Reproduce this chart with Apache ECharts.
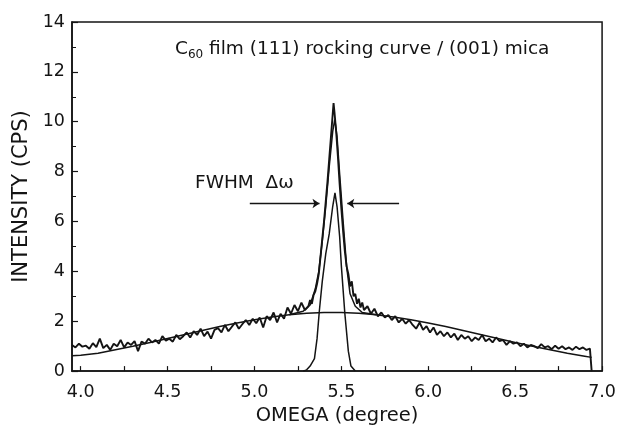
<!DOCTYPE html>
<html>
<head>
<meta charset="utf-8">
<script src="https://cdn.jsdelivr.net/npm/echarts@6/dist/echarts.min.js"></script>
<style>
html,body{margin:0;padding:0;background:#fff;}
#chart{width:619px;height:431px;}
</style>
</head>
<body>
<div id="chart"></div>
<script>
// ---- data ----
var xTickLabels = [4.0, 4.5, 5.0, 5.5, 6.0, 6.5, 7.0];
var xTicks = [4.0, 4.25, 4.5, 4.75, 5.0, 5.25, 5.5, 5.75, 6.0, 6.25, 6.5, 6.75, 7.0];
var yTicks = [0, 2, 4, 6, 8, 10, 12, 14];

var measured = [
[3.95,1.05],[3.97,0.95],[3.99,1.10],[4.01,0.98],[4.03,1.02],[4.05,0.90],[4.07,1.12],[4.09,0.96],
[4.11,1.30],[4.13,0.92],[4.15,1.05],[4.17,0.85],[4.19,1.10],[4.21,1.00],[4.23,1.25],[4.25,0.95],
[4.27,1.15],[4.29,1.05],[4.31,1.20],[4.33,0.80],[4.35,1.18],[4.37,1.10],[4.39,1.30],[4.41,1.15],
[4.43,1.25],[4.45,1.10],[4.47,1.40],[4.49,1.22],[4.51,1.30],[4.53,1.18],[4.55,1.45],[4.57,1.28],
[4.59,1.40],[4.61,1.55],[4.63,1.35],[4.65,1.60],[4.67,1.45],[4.69,1.70],[4.71,1.40],[4.73,1.58],
[4.75,1.30],[4.77,1.65],[4.79,1.72],[4.81,1.55],[4.83,1.85],[4.85,1.60],[4.87,1.78],[4.89,1.95],
[4.91,1.70],[4.93,1.88],[4.95,2.05],[4.97,1.85],[4.99,2.10],[5.01,1.92],[5.03,2.15],[5.05,1.75],
[5.07,2.20],[5.09,2.05],[5.11,2.35],[5.13,1.95],[5.15,2.30],[5.17,2.10],[5.19,2.55],[5.21,2.30],
[5.23,2.65],[5.25,2.40],[5.27,2.75],[5.29,2.45],[5.31,2.60],[5.32,2.85],[5.33,2.70],[5.34,3.05],
[5.35,3.20],[5.36,3.50],[5.37,3.90],[5.38,4.60],[5.39,5.30],[5.40,6.00],[5.41,6.80],[5.42,7.60],
[5.43,8.50],[5.44,9.40],[5.45,10.30],[5.455,10.75],[5.46,10.40],[5.47,9.60],[5.48,8.60],[5.49,7.50],
[5.50,6.50],[5.51,5.60],[5.52,4.80],[5.53,4.20],[5.54,3.90],[5.55,3.40],[5.56,3.60],[5.57,3.00],
[5.58,3.10],[5.59,2.70],[5.60,2.90],[5.61,2.55],[5.62,2.75],[5.63,2.45],[5.65,2.60],[5.67,2.30],
[5.69,2.50],[5.71,2.20],[5.73,2.35],[5.75,2.15],[5.77,2.25],[5.79,2.05],[5.81,2.20],[5.83,1.95],
[5.85,2.10],[5.87,1.90],[5.89,2.05],[5.91,1.85],[5.93,1.70],[5.95,1.95],[5.97,1.65],[5.99,1.80],
[6.01,1.55],[6.03,1.75],[6.05,1.45],[6.07,1.60],[6.09,1.40],[6.11,1.55],[6.13,1.35],[6.15,1.50],
[6.17,1.25],[6.19,1.45],[6.21,1.30],[6.23,1.40],[6.25,1.20],[6.27,1.35],[6.29,1.25],[6.31,1.45],
[6.33,1.20],[6.35,1.30],[6.37,1.15],[6.39,1.35],[6.41,1.20],[6.43,1.25],[6.45,1.05],[6.47,1.20],
[6.49,1.10],[6.51,1.15],[6.53,1.00],[6.55,1.10],[6.57,0.95],[6.59,1.05],[6.61,1.00],[6.63,0.92],
[6.65,1.08],[6.67,0.95],[6.69,1.00],[6.71,0.88],[6.73,1.02],[6.75,0.90],[6.77,1.00],[6.79,0.88],
[6.81,0.95],[6.83,0.85],[6.85,0.98],[6.87,0.88],[6.89,0.95],[6.91,0.85],[6.93,0.90],[6.94,0.00]
];

var broadFit = [
[3.95,0.62],[4.0,0.64],[4.1,0.72],[4.2,0.86],[4.3,1.00],[4.4,1.15],[4.5,1.31],[4.6,1.47],
[4.7,1.63],[4.8,1.79],[4.9,1.93],[5.0,2.06],[5.1,2.17],[5.2,2.26],[5.3,2.32],[5.4,2.35],
[5.5,2.35],[5.6,2.32],[5.7,2.26],[5.8,2.17],[5.9,2.06],[6.0,1.93],[6.1,1.79],[6.2,1.63],
[6.3,1.47],[6.4,1.31],[6.5,1.15],[6.6,1.00],[6.7,0.86],[6.8,0.72],[6.9,0.60],[6.94,0.55]
];

var narrowFit = [
[5.28,0.00],[5.30,0.05],[5.32,0.20],[5.345,0.50],[5.36,1.30],[5.373,2.40],[5.39,3.60],[5.41,4.70],
[5.43,5.50],[5.45,6.60],[5.463,7.15],[5.475,6.60],[5.49,5.40],[5.50,4.20],[5.52,2.30],[5.54,0.80],
[5.555,0.20],[5.58,0.00]
];

var sumFit = [
[5.20,2.26],[5.28,2.40],[5.32,2.65],[5.35,3.30],[5.37,4.00],[5.39,5.20],[5.41,6.60],[5.43,8.20],
[5.45,9.60],[5.462,10.10],[5.475,9.40],[5.49,7.90],[5.51,6.00],[5.53,4.20],[5.55,3.10],[5.58,2.60],
[5.62,2.35],[5.70,2.26]
];

var fwhmLeft = [[4.973,6.72],[5.374,6.72]];
var fwhmRight = [[5.832,6.72],[5.534,6.72]];

// ---- chart ----
var chart = echarts.init(document.getElementById('chart'), null, {renderer:'canvas'});
var FONT = '"DejaVu Sans", "Liberation Sans", Arial, sans-serif';
var INK = '#141414';

function lineSeries(data, w) {
  return {
    type: 'line', data: data, showSymbol: false, symbol: 'none', smooth: false,
    lineStyle: {color: INK, width: w}, silent: true, animation: false, z: 3
  };
}

var option = {
  backgroundColor: '#ffffff',
  animation: false,
  grid: {left: 72, right: 15, top: 22, bottom: 59, show: true, borderColor: INK, borderWidth: 1.5, backgroundColor: 'transparent'},
  xAxis: {
    type: 'value', min: 3.95, max: 7.0,
    name: 'OMEGA (degree)', nameLocation: 'middle', nameGap: 33,
    nameTextStyle: {fontFamily: FONT, fontSize: 19.5, color: INK},
    axisLine: {show: true, onZero: false, lineStyle: {color: INK, width: 1.6}},
    axisTick: {show: true, inside: true, length: 5, customValues: xTicks, lineStyle: {color: INK, width: 1.2}},
    axisLabel: {show: true, customValues: xTickLabels, margin: 12, fontFamily: FONT, fontSize: 17.5, color: INK,
      formatter: function (v) { return v.toFixed(1); }},
    splitLine: {show: false}
  },
  yAxis: {
    type: 'value', min: 0, max: 14, interval: 2,
    name: 'INTENSITY (CPS)', nameLocation: 'middle', nameGap: 38,
    nameTextStyle: {fontFamily: FONT, fontSize: 21, color: INK},
    axisLine: {show: true, onZero: false, lineStyle: {color: INK, width: 1.6}},
    axisTick: {show: true, inside: true, length: 6, lineStyle: {color: INK, width: 1.2}},
    minorTick: {show: true, splitNumber: 2, length: 4, lineStyle: {color: INK, width: 1}},
    axisLabel: {show: true, margin: 7, fontFamily: FONT, fontSize: 17.5, color: INK},
    splitLine: {show: false},
    minorSplitLine: {show: false}
  },
  series: [
    lineSeries(broadFit, 1.5),
    lineSeries(narrowFit, 1.5),
    lineSeries(sumFit, 1.5),
    lineSeries(measured, 1.9),
    {
      type: 'lines', coordinateSystem: 'cartesian2d', silent: true, animation: false, z: 4,
      symbol: ['none', 'arrow'], symbolSize: 7,
      lineStyle: {color: INK, width: 1.3, opacity: 1},
      data: [{coords: fwhmLeft}, {coords: fwhmRight}]
    }
  ],
  graphic: [
    {
      type: 'text', left: 175, top: 40, silent: true,
      style: {
        rich: {
          n: {fontFamily: FONT, fontSize: 18.5, fill: INK},
          s: {fontFamily: FONT, fontSize: 12, fill: INK, verticalAlign: 'bottom', padding: [11, 0, 0, 0]}
        },
        text: '{n|C}{s|60}{n| film (111) rocking curve / (001) mica}'
      }
    },
    {
      type: 'text', left: 195, top: 174, silent: true,
      style: {text: 'FWHM  \u0394\u03c9', fontFamily: FONT, fontSize: 18.5, fill: INK}
    }
  ]
};
chart.setOption(option);
</script>
</body>
</html>
